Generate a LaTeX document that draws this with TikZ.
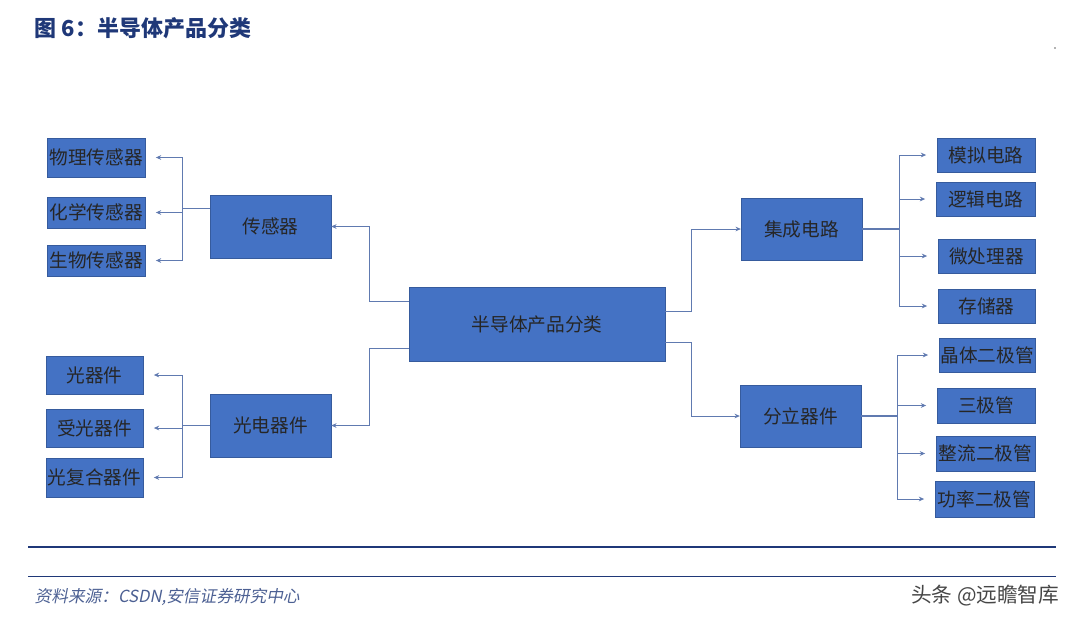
\documentclass[tikz,border=0pt]{standalone}
\usepackage{fontspec}
\setmainfont{Noto Sans CJK SC}
\newfontfamily\slantcjk[FakeSlant=0.2]{Noto Sans CJK SC}
\usetikzlibrary{arrows.meta,calc}
\definecolor{boxblue}{RGB}{68, 114, 196}
\definecolor{linkblue}{RGB}{96, 122, 176}
\definecolor{titleblue}{RGB}{31, 56, 120}
\definecolor{notegray}{RGB}{70, 70, 70}

% box from pixel corners
\newcommand{\bx}[6]{\node[box, minimum width={(#4-#2)*0.75pt}, minimum height={(#5-#3)*0.75pt}] (#1) at ({(#2+#4)/2},{(#3+#5)/2}) {#6};}

\begin{document}
\begin{tikzpicture}[
        x=0.75pt, y=-0.75pt,
        box/.style={rectangle, fill=boxblue, draw=boxblue!80!black, line width=0.3pt, inner sep=0pt, font=\fontsize{14}{16}\selectfont, text=black!85},
        link/.style={draw=linkblue, line width=0.6pt},
        arrow/.style={link, -{Stealth[length=4pt, width=3.5pt]}, shorten >=8pt},
        hub/.style={link, -{Stealth[length=4pt, width=3.5pt]}}
    ]
    \useasboundingbox (0,0) rectangle (1080,626);

    % title and rules
    \node[anchor=west, text=titleblue, font=\fontsize{16.5}{18}\selectfont\bfseries] (title) at (30,28) {图 6：半导体产品分类};
    \fill[black!60] (1055,48) circle (0.6pt);
    \draw[titleblue, line width=1.2pt] (28,547) -- (1056,547);
    \draw[titleblue, line width=0.6pt] (28,576) -- (1056,576);

    % main and middle boxes
    \bx{main}{409}{287}{665}{361}{半导体产品分类}
    \bx{sensor}{210}{195}{331}{258}{传感器}
    \bx{opto}{210}{394}{331}{457}{光电器件}
    \bx{ic}{741}{198}{862}{260}{集成电路}
    \bx{disc}{740}{385}{861}{447}{分立器件}

    % leaves left
    \bx{phys}{47}{138}{145}{177}{物理传感器}
    \bx{chem}{47}{197}{145}{228}{化学传感器}
    \bx{bio}{47}{245}{145}{276}{生物传感器}
    \bx{light}{46}{356}{143}{394}{光器件}
    \bx{recv}{46}{409}{143}{447}{受光器件}
    \bx{comp}{46}{458}{143}{497}{光复合器件}

    % leaves right
    \bx{analog}{937}{138}{1035}{172}{模拟电路}
    \bx{logic}{936}{182}{1035}{216}{逻辑电路}
    \bx{cpu}{938}{239}{1035}{273}{微处理器}
    \bx{mem}{938}{289}{1035}{323}{存储器}
    \bx{diode}{939}{338}{1035}{372}{晶体二极管}
    \bx{triode}{937}{388}{1035}{423}{三极管}
    \bx{rect}{936}{436}{1035}{471}{整流二极管}
    \bx{power}{935}{481}{1034}{517}{功率二极管}

    % main to middle
    \draw[hub] ([yshift=17.25pt]main.west) -- ++(-39,0) |- (sensor.east);
    \draw[hub] ([yshift=-18pt]main.west) -- ++(-39,0) |- (opto.east);
    \draw[hub] ([yshift=9.75pt]main.east) -- ++(26,0) |- (ic.west);
    \draw[hub] ([yshift=-13.5pt]main.east) -- ++(26,0) |- (disc.west);

    % middle to leaves
    \draw[link] ([yshift=13.5pt]sensor.west) -- ++(-27,0) coordinate (st);
    \draw[link] (st |- phys) -- (st |- bio);
    \foreach \leaf in {phys, chem, bio}
        \draw[arrow] (st |- \leaf) -- (\leaf.east);
    \draw[link] (opto.west) -- ++(-27,0) coordinate (ot);
    \draw[link] (ot |- light) -- (ot |- comp);
    \foreach \leaf in {light, recv, comp}
        \draw[arrow] (ot |- \leaf) -- (\leaf.east);
    \draw[link, line width=1.2pt] (ic.east) -- ++(37,0) coordinate (it);
    \draw[link] (it |- analog) -- (it |- mem);
    \foreach \leaf in {analog, logic, cpu, mem}
        \draw[arrow] (it |- \leaf) -- (\leaf.west);
    \draw[link, line width=1pt] (disc.east) -- ++(36,0) coordinate (dt);
    \draw[link] (dt |- diode) -- (dt |- power);
    \foreach \leaf in {diode, triode, rect, power}
        \draw[arrow] (dt |- \leaf) -- (\leaf.west);

    % footer
    \node[anchor=west, text=titleblue!80, font=\fontsize{12.5}{14}\slantcjk] (source) at (30,597) {资料来源：CSDN,安信证券研究中心};
    \node[anchor=east, text=notegray, font=\fontsize{15.5}{17}\selectfont] (mark) at (1064,596) {头条 @远瞻智库};
\end{tikzpicture}
\end{document}
